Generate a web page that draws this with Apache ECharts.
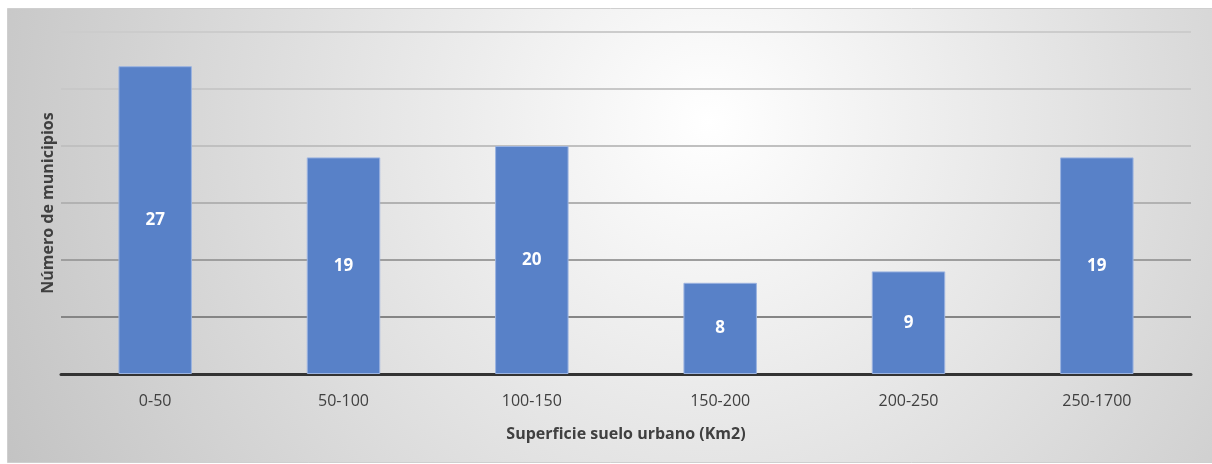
<!DOCTYPE html>
<html>
<head>
<meta charset="utf-8">
<script src="https://cdn.jsdelivr.net/npm/echarts@6/dist/echarts.min.js"></script>
<style>
  html, body { margin: 0; padding: 0; background: #fff; }
  #main { width: 1212px; height: 464px; }
</style>
</head>
<body>
<div id="main"></div>
<script>
var categorias = ['0-50', '50-100', '100-150', '150-200', '200-250', '250-1700'];
var municipios = [27, 19, 20, 8, 9, 19];
var ejeY = { min: 0, max: 30, interval: 5 };

var fuente = '"Open Sans", "Noto Sans", sans-serif';
var myChart = echarts.init(document.getElementById('main'));

var option = {
  backgroundColor: '#fff',
  animation: false,
  graphic: [{
    type: 'rect',
    z: -10,
    silent: true,
    shape: { x: 7.5, y: 8.5, width: 1210, height: 454 },
    style: {
      fill: new echarts.graphic.RadialGradient(0.58, 0.25, 1.75, [
        { offset: 0, color: '#ffffff' },
        { offset: 1, color: '#c2c2c2' }
      ]),
      stroke: '#cfcfcf',
      lineWidth: 1
    }
  }],
  grid: { left: 61, right: 21, top: 32, bottom: 90 },
  xAxis: {
    type: 'category',
    data: categorias,
    name: 'Superficie suelo urbano (Km2)',
    nameLocation: 'middle',
    nameGap: 52,
    nameTextStyle: { fontFamily: fuente, fontSize: 16, fontWeight: 'bold', color: '#404040' },
    axisLine: { lineStyle: { color: '#333', width: 3 } },
    axisTick: { show: false },
    axisLabel: { fontFamily: fuente, fontSize: 16, color: '#404040', margin: 19 }
  },
  yAxis: {
    type: 'value',
    min: ejeY.min,
    max: ejeY.max,
    interval: ejeY.interval,
    name: 'Número de municipios',
    nameLocation: 'middle',
    nameGap: 5,
    nameTextStyle: { fontFamily: fuente, fontSize: 16, fontWeight: 'bold', color: '#404040' },
    axisLine: { show: false },
    axisTick: { show: false },
    axisLabel: { show: false },
    splitLine: {
      lineStyle: {
        width: 2,
        color: ['#333', '#858585', '#9e9e9e', '#b2b2b2', '#c0c0c0', '#c8c8c8', '#cccccc']
      }
    }
  },
  series: [{
    type: 'bar',
    data: municipios,
    barWidth: '39%',
    itemStyle: { color: '#5881c8', borderColor: '#9bb3e0', borderWidth: 1 },
    label: {
      show: true,
      position: 'inside',
      fontFamily: fuente,
      fontSize: 17,
      fontWeight: 'bold',
      color: '#fff'
    }
  }]
};
myChart.setOption(option);
</script>
</body>
</html>
